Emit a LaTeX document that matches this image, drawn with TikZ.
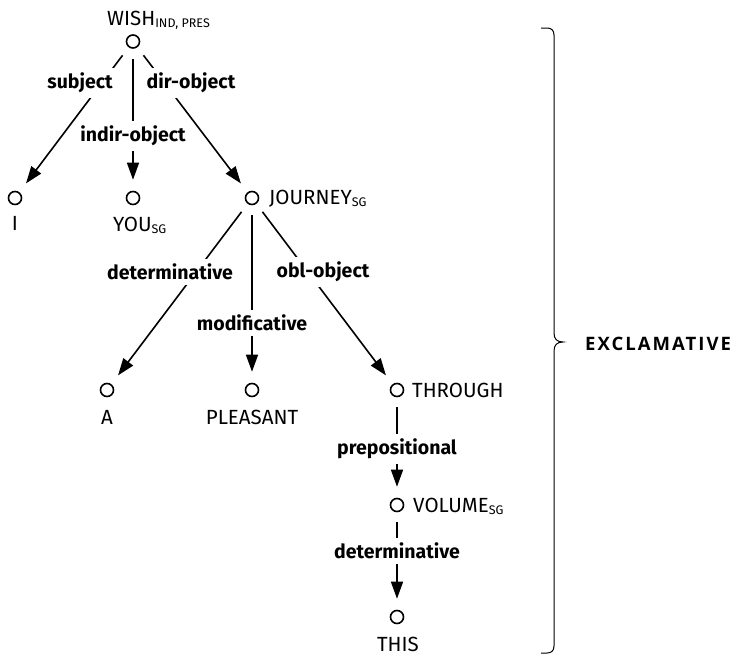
\documentclass[tikz,border=0pt]{standalone}
\usepackage{fontspec}
\setmainfont{Fira Sans}
\newfontfamily\moodfont[LetterSpace=11]{Open Sans}
\usetikzlibrary{arrows.meta}
\newcommand\lowsub[1]{\raisebox{-2.5pt}{\fontsize{12.5}{13}\selectfont #1}}

\tikzset{
  word/.style={circle, draw, line width=1.6pt, minimum size=13pt, inner sep=0pt},
  lex/.style={inner sep=0pt, font=\fontsize{20.5}{20.5}\selectfont},
  rel/.style={fill=white, inner xsep=3pt, inner ysep=5pt, font=\bfseries\fontsize{19.5}{19.5}\selectfont},
  link/.style={line width=1.6pt, -{Triangle[length=17pt,width=12pt]}, shorten <=10pt, shorten >=11pt},
}

\begin{document}
\begin{tikzpicture}[x=1pt, y=-1pt]
\useasboundingbox (0,0) rectangle (737,656);

% word nodes
\node[word] (wish)    at (133,41.5) {};
\node[word] (i)       at (15,198) {};
\node[word] (you)     at (133,198) {};
\node[word] (journey) at (252,198) {};
\node[word] (a)       at (107,390) {};
\node[word] (pleas)   at (252,390) {};
\node[word] (through) at (397,390) {};
\node[word] (volume)  at (397,505) {};
\node[word] (this)    at (397,617) {};

% lexemes
\node[lex, anchor=base west] (twish)    at (107,25)  {WISH\lowsub{IND, PRES}};
\node[lex, anchor=base]      (ti)       at (15,230)  {I};
\node[lex, anchor=base west] (tyou)     at (113,231) {YOU\lowsub{SG}};
\node[lex, anchor=base west] (tjourney) at (269,204) {JOURNEY\lowsub{SG}};
\node[lex, anchor=base]      (ta)       at (107,424) {A};
\node[lex, anchor=base]      (tpleas)   at (252,424) {PLEASANT};
\node[lex, anchor=base west] (tthrough) at (412,397) {THROUGH};
\node[lex, anchor=base west] (tvolume)  at (413,512) {VOLUME\lowsub{SG}};
\node[lex, anchor=base]      (tthis)    at (398,651) {THIS};

% dependencies
\draw[link] (wish) -- (i);
\draw[link] (wish) -- (you);
\draw[link] (wish) -- (journey);
\draw[link] (journey) -- (a);
\draw[link] (journey) -- (pleas);
\draw[link] (journey) -- (through);
\draw[link] (through) -- (volume);
\draw[link] (volume) -- (this);

% relation labels
\node[rel] (rsubj)  at (80,83)   {subject};
\node[rel] (rindir) at (133,136) {indir-object};
\node[rel] (rdir)   at (191,83)  {dir-object};
\node[rel] (rdet)   at (170,272) {determinative};
\node[rel] (rmod)   at (252,323) {modificative};
\node[rel] (robl)   at (323,272) {obl-object};
\node[rel] (rprep)  at (397,449) {prepositional};
\node[rel] (rdet2)  at (397,551) {determinative};

% brace and sentence type
\draw[line width=1pt] (541,28) -- (547,28) .. controls (551,28) and (554,30) .. (554,35)
  -- (554,333) .. controls (554,339) and (557,342) .. (563,342)
  .. controls (557,342) and (554,345) .. (554,351)
  -- (554,646) .. controls (554,651) and (551,653) .. (547,653) -- (541,653);
\node[anchor=base west, inner sep=0pt, font=\moodfont\bfseries\fontsize{18.5}{18.5}\selectfont] (mood) at (585,350) {EXCLAMATIVE};
\end{tikzpicture}
\end{document}
